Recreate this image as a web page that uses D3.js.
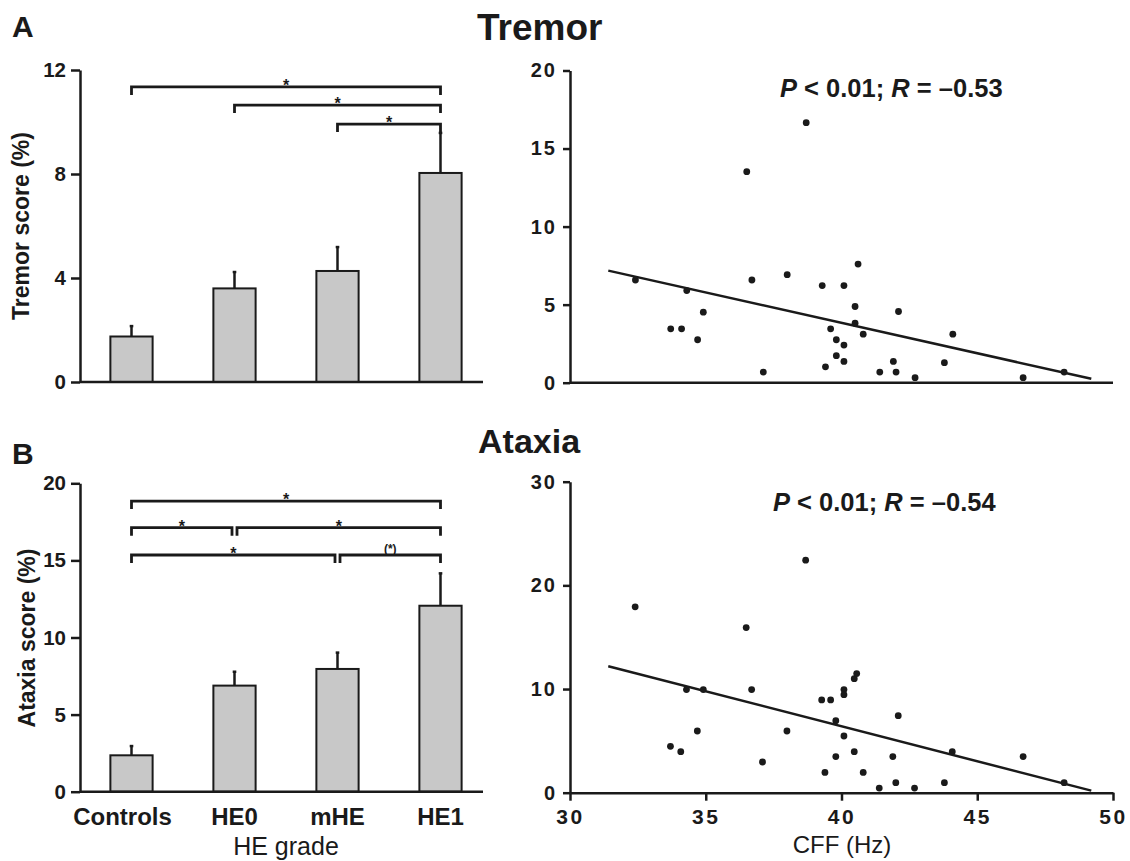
<!DOCTYPE html>
<html>
<head>
<meta charset="utf-8">
<script src="https://cdn.jsdelivr.net/npm/d3@7"></script>
<style>
  html, body { margin: 0; padding: 0; background: #fff; }
  svg { display: block; font-family: "Liberation Sans", Arial, sans-serif; }
</style>
</head>
<body>
<svg id="chart" width="1130" height="861"></svg>
<script>
// ---------------- DATA ----------------
const categories = ["Controls", "HE0", "mHE", "HE1"];

const tremorMean = [1.75, 3.6, 4.27, 8.04];
const tremorSem  = [0.40, 0.63, 0.92, 1.54];
const tremorTicks = [0, 4, 8, 12];
const tremorBrackets = [
  { from: "Controls", to: "HE1", level: 11.35, label: "*" },
  { from: "HE0",      to: "HE1", level: 10.65, label: "*" },
  { from: "mHE",      to: "HE1", level: 9.92,  label: "*" }
];

const ataxiaMean = [2.36, 6.88, 7.96, 12.06];
const ataxiaSem  = [0.60, 0.90, 1.06, 2.10];
const ataxiaTicks = [0, 5, 10, 15, 20];
const ataxiaBrackets = [
  { from: "Controls", to: "HE1", level: 18.85, label: "*" },
  { from: "Controls", to: "HE0", level: 17.12, label: "*" },
  { from: "HE0",      to: "HE1", level: 17.12, label: "*" },
  { from: "Controls", to: "mHE", level: 15.35, label: "*" },
  { from: "mHE",      to: "HE1", level: 15.35, label: "(*)" }
];

// CFF (Hz) vs tremor score (%)
const cffTremorX = [32.41, 34.30, 33.71, 34.11, 34.70, 34.91, 36.51, 36.70, 37.12, 38.00, 38.70,
  39.29, 39.41, 39.60, 39.81, 39.81, 40.09, 40.09, 40.09, 40.50, 40.50, 40.61, 40.80, 41.41,
  41.91, 42.01, 42.10, 42.71, 43.79, 44.10, 46.69, 48.20];
const cffTremorY = [6.58, 5.90, 3.45, 3.45, 2.75, 4.52, 13.52, 6.58, 0.68, 6.92, 16.66,
  6.22, 1.02, 3.45, 2.75, 1.73, 6.22, 2.41, 1.36, 4.88, 3.81, 7.60, 3.11, 0.68,
  1.36, 0.68, 4.56, 0.32, 1.28, 3.11, 0.32, 0.68];
const tremorFit = [[31.41, 7.18], [49.2, 0.25]];
const tremorStat = { p: "0.01", r: "\u20130.53" };

// CFF (Hz) vs ataxia score (%)
const cffAtaxiaX = [32.40, 33.70, 34.08, 34.29, 34.69, 34.91, 36.49, 36.69, 37.09, 37.99, 38.68,
  39.27, 39.60, 39.39, 39.79, 39.79, 40.09, 40.09, 40.09, 40.47, 40.56, 40.47, 40.80, 42.09,
  41.39, 41.89, 42.00, 42.69, 43.79, 44.08, 46.69, 48.20];
const cffAtaxiaY = [17.93, 4.47, 3.96, 9.95, 5.95, 9.95, 15.93, 9.95, 2.96, 5.95, 22.43,
  8.95, 8.95, 1.96, 6.95, 3.48, 9.95, 9.46, 5.47, 11.00, 11.49, 3.96, 1.96, 7.43,
  0.45, 3.48, 0.97, 0.45, 0.97, 3.96, 3.48, 0.97];
const ataxiaFit = [[31.41, 12.2], [49.2, 0.2]];
const ataxiaStat = { p: "0.01", r: "\u20130.54" };

const cffTicks = [30, 35, 40, 45, 50];
const scTremorTicks = [0, 5, 10, 15, 20];
const scAtaxiaTicks = [0, 10, 20, 30];

// ---------------- DRAW ----------------
const svg = d3.select("#chart");
const INK = "#1a1a1a";

function styleAxis(g, fontSize, ls) {
  g.select(".domain").attr("stroke", INK).attr("stroke-width", 2.5);
  g.selectAll(".tick line").attr("stroke", INK).attr("stroke-width", 2.5);
  g.selectAll(".tick text")
    .attr("fill", INK)
    .style("font-size", fontSize + "px")
    .style("font-weight", "bold")
    .style("letter-spacing", (ls || 0) + "px");
}

function barPanel(opt) {
  const x = d3.scaleBand().domain(categories).range([80, 492])
    .paddingInner(0.59).paddingOuter(0.295);
  const y = d3.scaleLinear().domain(opt.domain).range(opt.range);
  const g = svg.append("g");

  g.selectAll("rect.bar").data(categories).join("rect")
    .attr("x", d => x(d))
    .attr("y", (d, i) => y(opt.mean[i]))
    .attr("width", x.bandwidth())
    .attr("height", (d, i) => y(0) - y(opt.mean[i]))
    .attr("fill", "#c8c8c8")
    .attr("stroke", INK)
    .attr("stroke-width", 2);

  const cx = d => x(d) + x.bandwidth() / 2;
  g.selectAll("line.err").data(categories).join("line")
    .attr("x1", cx).attr("x2", cx)
    .attr("y1", (d, i) => y(opt.mean[i]))
    .attr("y2", (d, i) => y(opt.mean[i] + opt.sem[i]))
    .attr("stroke", INK).attr("stroke-width", 2.5);
  g.selectAll("line.cap").data(categories).join("line")
    .attr("x1", d => cx(d) - 1.8).attr("x2", d => cx(d) + 1.8)
    .attr("y1", (d, i) => y(opt.mean[i] + opt.sem[i]))
    .attr("y2", (d, i) => y(opt.mean[i] + opt.sem[i]))
    .attr("stroke", INK).attr("stroke-width", 2.5);

  const ya = g.append("g").attr("transform", "translate(80,0)")
    .call(d3.axisLeft(y).tickValues(opt.ticks).tickSize(9).tickSizeOuter(0).tickPadding(5));
  styleAxis(ya, 20.5);

  g.append("line").attr("x1", 80).attr("x2", 483)
    .attr("y1", y(0)).attr("y2", y(0))
    .attr("stroke", INK).attr("stroke-width", 2.5);

  opt.brackets.forEach(b => {
    const sameLevel = opt.brackets.filter(o => o !== b && o.level === b.level);
    let x1 = cx(b.from), x2 = cx(b.to);
    if (sameLevel.some(o => o.to === b.from)) x1 += 2.5;
    if (sameLevel.some(o => o.from === b.to)) x2 -= 2.5;
    const yy = y(b.level);
    g.append("path")
      .attr("d", `M${x1},${yy + 8}V${yy}H${x2}V${yy + 8}`)
      .attr("fill", "none").attr("stroke", INK).attr("stroke-width", 2.8);
    g.append("text")
      .attr("x", (x1 + x2) / 2).attr("y", yy + (b.label === "*" ? 4 : -2))
      .attr("text-anchor", "middle")
      .style("font-size", b.label === "*" ? "16px" : "12px")
      .style("font-weight", "bold")
      .attr("fill", INK)
      .text(b.label);
  });

  g.append("text")
    .attr("transform", `translate(${opt.labelX},${opt.labelY}) rotate(-90)`)
    .attr("text-anchor", "middle")
    .style("font-size", "23px").style("font-weight", "bold")
    .attr("fill", INK)
    .text(opt.yLabel);

  return { x, y, g };
}

function scatterPanel(opt) {
  const x = d3.scaleLinear().domain([30, 50]).range([570, 1113]);
  const y = d3.scaleLinear().domain(opt.domain).range(opt.range);
  const g = svg.append("g");

  const ya = g.append("g").attr("transform", "translate(570,0)")
    .call(d3.axisLeft(y).tickValues(opt.ticks).tickSize(7).tickSizeOuter(0).tickPadding(6));
  styleAxis(ya, 20, 2);

  if (opt.showX) {
    const xa = g.append("g").attr("transform", `translate(0,${y(0)})`)
      .call(d3.axisBottom(x).tickValues(cffTicks).tickSize(8).tickSizeOuter(0).tickPadding(8));
    styleAxis(xa, 21, 2.5);
  } else {
    g.append("line").attr("x1", 570).attr("x2", 1113)
      .attr("y1", y(0)).attr("y2", y(0))
      .attr("stroke", INK).attr("stroke-width", 2.5);
  }

  g.append("path")
    .datum(opt.fit)
    .attr("d", d3.line().x(d => x(d[0])).y(d => y(d[1])))
    .attr("fill", "none").attr("stroke", INK).attr("stroke-width", 2.5);

  g.selectAll("circle").data(opt.xs).join("circle")
    .attr("cx", d => x(d))
    .attr("cy", (d, i) => y(opt.ys[i]))
    .attr("r", 3.4)
    .attr("fill", INK);

  const t = g.append("text")
    .attr("x", opt.statX).attr("y", opt.statY)
    .style("font-size", "25.5px").style("font-weight", "bold")
    .attr("fill", INK);
  t.append("tspan").style("font-style", "italic").text("P");
  t.append("tspan").text(" < " + opt.stat.p + "; ");
  t.append("tspan").style("font-style", "italic").text("R");
  t.append("tspan").text(" = " + opt.stat.r);

  return { x, y, g };
}

// Panel A
barPanel({
  domain: [0, 12], range: [382, 70], ticks: tremorTicks,
  mean: tremorMean, sem: tremorSem, brackets: tremorBrackets,
  yLabel: "Tremor score (%)", labelX: 29, labelY: 226
});
scatterPanel({
  domain: [0, 20], range: [382.7, 70.5], ticks: scTremorTicks,
  xs: cffTremorX, ys: cffTremorY, fit: tremorFit, stat: tremorStat,
  statX: 780, statY: 97, showX: false
});

// Panel B
const pb = barPanel({
  domain: [0, 20], range: [791.7, 483.3], ticks: ataxiaTicks,
  mean: ataxiaMean, sem: ataxiaSem, brackets: ataxiaBrackets,
  yLabel: "Ataxia score (%)", labelX: 35, labelY: 638
});
scatterPanel({
  domain: [0, 30], range: [792.7, 481.7], ticks: scAtaxiaTicks,
  xs: cffAtaxiaX, ys: cffAtaxiaY, fit: ataxiaFit, stat: ataxiaStat,
  statX: 773, statY: 511, showX: true
});

svg.append("g").selectAll("text").data(categories).join("text")
  .attr("x", (d, i) => pb.x(d) + pb.x.bandwidth() / 2 - (i === 0 ? 9 : 0))
  .attr("y", 825)
  .attr("text-anchor", "middle")
  .style("font-size", "24px").style("font-weight", "bold")
  .attr("fill", INK)
  .text(d => d);

svg.append("text").attr("x", 286).attr("y", 855).attr("text-anchor", "middle")
  .style("font-size", "25px").attr("fill", INK).text("HE grade");
svg.append("text").attr("x", 842).attr("y", 853).attr("text-anchor", "middle")
  .style("font-size", "24px").attr("fill", INK).text("CFF (Hz)");

svg.append("text").attr("x", 477).attr("y", 40)
  .style("font-size", "37px").style("font-weight", "bold").attr("fill", INK).text("Tremor");
svg.append("text").attr("x", 478).attr("y", 453)
  .style("font-size", "34px").style("font-weight", "bold").attr("fill", INK).text("Ataxia");
svg.append("text").attr("x", 12).attr("y", 37)
  .style("font-size", "30px").style("font-weight", "bold").attr("fill", INK).text("A");
svg.append("text").attr("x", 12).attr("y", 464)
  .style("font-size", "30px").style("font-weight", "bold").attr("fill", INK).text("B");
</script>
</body>
</html>
